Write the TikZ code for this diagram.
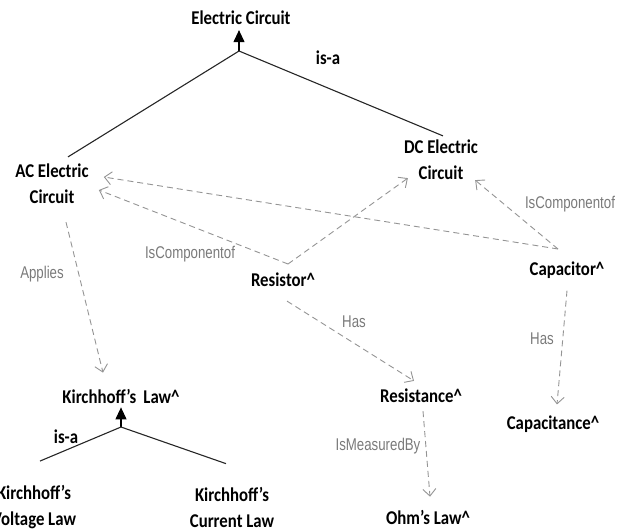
\documentclass[tikz,border=0pt]{standalone}
\usepackage{fontspec}
\setmainfont{Carlito}[FakeStretch=0.86]
\newfontfamily\narrowfont[FakeStretch=0.78]{Liberation Sans}
\usetikzlibrary{arrows.meta,calc}

\tikzset{
  concept/.style={font=\fontsize{19.5}{26}\selectfont\bfseries, align=center, inner sep=1pt},
  rel/.style={draw=black!42, dash pattern=on 6pt off 4pt, line width=0.9pt, -{Straight Barb[length=7pt,width=13pt]}},
  rellabel/.style={font=\fontsize{17}{18}\selectfont\narrowfont, text=black!52, inner sep=1pt},
  isa/.style={draw=black!85, line width=1.1pt},
  isatip/.style={draw=black, line width=1.1pt, -{Triangle[length=12pt,width=11pt]}},
  isalabel/.style={font=\fontsize{19.5}{20}\selectfont\bfseries, inner sep=1pt},
}

\begin{document}
\begin{tikzpicture}[x=1pt,y=-1pt]
			%%%%% START %%%%%
			\useasboundingbox (0,0) rectangle (631,531);
			
			\node[concept] (ec) at (241,18) {Electric Circuit};
			\node[concept] (ac) at (52,184) {AC Electric\\Circuit};
			\node[concept] (dc) at (441,160) {DC Electric\\Circuit};
			\node[concept] (res) at (283,280) {Resistor\textasciicircum};
			\node[concept] (cap) at (567,270) {Capacitor\textasciicircum};
			\node[concept] (kl) at (121,396) {Kirchhoff’s\, Law\textasciicircum};
			\node[concept] (rst) at (421,396) {Resistance\textasciicircum};
			\node[concept] (cpt) at (553,424) {Capacitance\textasciicircum};
			\node[concept] (kvl) at (34,507) {Kirchhoff’s\\Voltage Law};
			\node[concept] (kcl) at (232,507) {Kirchhoff’s\\Current Law};
			\node[concept] (ohm) at (428,517) {Ohm’s Law\textasciicircum};
			
			% is-a trees
			\coordinate (ec-fork) at (239,51);
			\coordinate (kl-fork) at (121,427);
			\draw[isatip] (ec-fork) -- ([xshift=-2pt,yshift=-4pt]ec.south);
			\draw[isa] (ec-fork) -- ([xshift=16pt,yshift=6pt]ac.north);
			\draw[isa] (ec-fork) -- ([xshift=2pt,yshift=3pt]dc.north);
			\node[isalabel] (isa1) at (328,58) {is-a};
			
			\draw[isatip] (kl-fork) -- ([yshift=-3pt]kl.south);
			\draw[isa] (kl-fork) -- ([xshift=6pt,yshift=23pt]kvl.north);
			\draw[isa] (kl-fork) -- ([xshift=-6pt,yshift=22pt]kcl.north);
			\node[isalabel] (isa2) at (66,437) {is-a};
			
			% relations
			\coordinate (res-fork) at (288,264);
			\coordinate (cap-fork) at (558,249);
			\draw[rel] (res-fork) -- ([xshift=9pt,yshift=-6pt]ac.east);
			\draw[rel] (res-fork) -- ([xshift=5pt,yshift=3pt]dc.south west);
			\draw[rel] (cap-fork) -- ([xshift=14pt,yshift=7pt]ac.east);
			\draw[rel] (cap-fork) -- ([xshift=-4pt,yshift=1pt]dc.south east);
			\node[rellabel] (rc1) at (190,254) {IsComponentof};
			\node[rellabel] (rc2) at (570,204) {IsComponentof};
			
			\draw[rel] ([xshift=14pt,yshift=-17pt]ac.south) -- ([xshift=-18pt,yshift=15pt]kl.north);
			\node[rellabel] (ap) at (42,274) {Applies};
			
			\draw[rel] ([xshift=4pt,yshift=-13pt]res.south) -- ([xshift=-7pt,yshift=7pt]rst.north);
			\node[rellabel] (has1) at (354,322) {Has};
			
			\draw[rel] ([xshift=2pt,yshift=-7pt]rst.south) -- ([xshift=2pt,yshift=12pt]ohm.north);
			\node[rellabel] (msr) at (378,446) {IsMeasuredBy};
			
			\draw[rel] ([yshift=-11pt]cap.south) -- ([xshift=4pt,yshift=10pt]cpt.north);
			\node[rellabel] (has2) at (542,339) {Has};
			
			%%%%% END %%%%%
\end{tikzpicture}
\end{document}
